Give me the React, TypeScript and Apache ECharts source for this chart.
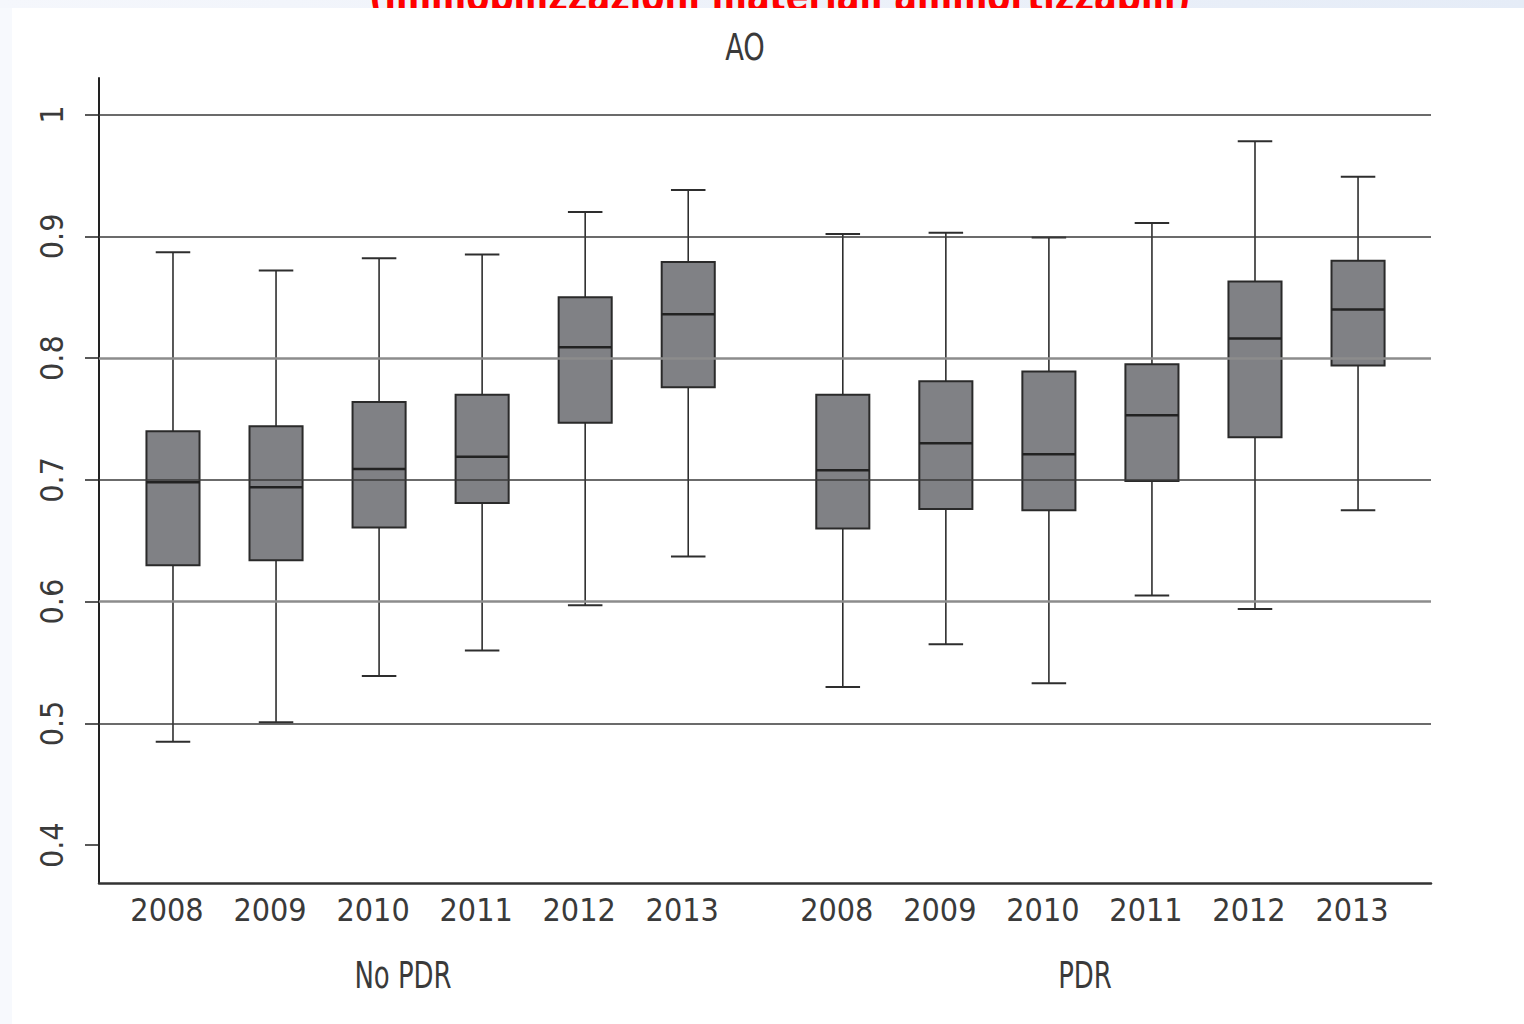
import React, { useEffect, useRef } from "react";
import * as echarts from "echarts";

// ---- data ----
const years = ["2008", "2009", "2010", "2011", "2012", "2013", "2008", "2009", "2010", "2011", "2012", "2013"];
const positions = [1, 2, 3, 4, 5, 6, 7.5, 8.5, 9.5, 10.5, 11.5, 12.5];
const groupNames = ["No PDR", "PDR"];
const whiskerLow = [0.485, 0.501, 0.539, 0.56, 0.597, 0.637, 0.53, 0.565, 0.533, 0.605, 0.594, 0.675];
const q1 = [0.63, 0.634, 0.661, 0.681, 0.747, 0.776, 0.66, 0.676, 0.675, 0.699, 0.735, 0.794];
const median = [0.698, 0.694, 0.709, 0.719, 0.809, 0.836, 0.708, 0.73, 0.721, 0.753, 0.816, 0.84];
const q3 = [0.74, 0.744, 0.764, 0.77, 0.85, 0.879, 0.77, 0.781, 0.789, 0.795, 0.863, 0.88];
const whiskerHigh = [0.887, 0.872, 0.882, 0.885, 0.92, 0.938, 0.902, 0.903, 0.899, 0.911, 0.978, 0.949];
const yTicks = [0.4, 0.5, 0.6, 0.7, 0.8, 0.9, 1];
const gridValues = [0.5, 0.6, 0.7, 0.8, 0.9, 1];
const titleText = "AO";
const headerText = "(immobilizzazioni materiali ammortizzabili)";

const FONT = "'Liberation Sans Narrow', 'Arial Narrow', 'DejaVu Sans Condensed', sans-serif";
const BOX_W = 0.515;
const CAP_W = 0.335;
const DARK_GRID = { color: "#3a3a3a", width: 1.6, type: "solid" };
const LIGHT_GRID = { color: "#8c8c8c", width: 2.5, type: "solid" };
const gridStyles = [DARK_GRID, LIGHT_GRID, DARK_GRID, LIGHT_GRID, DARK_GRID, DARK_GRID];

export default function App() {
  const ref = useRef<HTMLDivElement>(null);
  useEffect(() => {
    if (!ref.current) return;
    const chart = echarts.init(ref.current, null, { renderer: "svg" });
    const labelMap = new Map<number, string>();
    positions.forEach((p, i) => labelMap.set(p, years[i]));
    const data = positions.map((p, i) => [p, whiskerLow[i], q1[i], median[i], q3[i], whiskerHigh[i]]);
    const lineCol = "#2e2e2e";
    const txt = "#3a3a3a";

    const option: any = {
      animation: false,
      backgroundColor: "#ffffff",
      grid: { left: 99, right: 93, top: 78, bottom: 141, containLabel: false },
      xAxis: {
        type: "value",
        min: 0.282,
        max: 13.208,
        splitLine: { show: false },
        axisTick: { show: false },
        axisLine: { show: true, lineStyle: { color: "#333", width: 2.5 } },
        axisLabel: {
          customValues: positions,
          formatter: (v: number) => labelMap.get(v) ?? "",
          fontFamily: FONT,
          fontSize: 32,
          color: txt,
          margin: 11,
          padding: [0, 12, 0, 0],
        },
      },
      yAxis: {
        type: "value",
        min: 0.369,
        max: 1.03,
        splitLine: { show: false },
        axisLine: { show: true, lineStyle: { color: "#222", width: 2 } },
        axisTick: { show: true, customValues: yTicks, length: 14, lineStyle: { color: "#222", width: 1.5 } },
        axisLabel: {
          customValues: yTicks,
          formatter: (v: number) => String(Math.round(v * 10) / 10),
          rotate: 90,
          fontFamily: FONT,
          fontSize: 32,
          color: txt,
          margin: 31,
        },
      },
      graphic: [
        {
          type: "rect",
          z: -10,
          shape: { x: 0, y: 0, width: 1524, height: 1024 },
          style: {
            fill: new echarts.graphic.LinearGradient(0, 0, 1, 0, [
              { offset: 0, color: "#f5f7fc" },
              { offset: 1, color: "#e5ecf7" },
            ]),
          },
        },
        {
          type: "rect",
          z: -10,
          shape: { x: 0, y: 8, width: 12, height: 1016 },
          style: { fill: "#f7f9fd" },
        },
        {
          type: "text",
          z: -9,
          x: 780,
          y: 20,
          scaleX: 0.765,
          style: {
            text: headerText,
            fill: "#ff0000",
            font: `bold 49px ${FONT}`,
            textAlign: "center",
            textVerticalAlign: "bottom",
          },
        },
        {
          type: "rect",
          z: -8,
          shape: { x: 12, y: 8, width: 1512, height: 1016 },
          style: { fill: "#ffffff" },
        },
        {
          type: "text",
          x: 745,
          y: 47,
          scaleX: 0.82,
          style: {
            text: titleText,
            fill: txt,
            font: `37px ${FONT}`,
            textAlign: "center",
            textVerticalAlign: "middle",
          },
        },
        {
          type: "text",
          x: 403,
          y: 975,
          scaleX: 0.78,
          style: {
            text: groupNames[0],
            fill: txt,
            font: `37px ${FONT}`,
            textAlign: "center",
            textVerticalAlign: "middle",
          },
        },
        {
          type: "text",
          x: 1085,
          y: 975,
          scaleX: 0.78,
          style: {
            text: groupNames[1],
            fill: txt,
            font: `37px ${FONT}`,
            textAlign: "center",
            textVerticalAlign: "middle",
          },
        },
      ],
      series: [
        {
          type: "line",
          data: [],
          z: 1,
          silent: true,
          markLine: {
            silent: true,
            symbol: ["none", "none"],
            label: { show: false },
            animation: false,
            data: gridValues.map((v, i) => ({ yAxis: v, lineStyle: gridStyles[i] })),
          },
        },
        {
          type: "custom",
          z: 3,
          data,
          encode: { x: 0, y: [1, 2, 3, 4, 5] },
          renderItem: (params: any, api: any) => {
            const x = api.value(0);
            const lo = api.coord([x, api.value(1)]);
            const b1 = api.coord([x, api.value(2)]);
            const md = api.coord([x, api.value(3)]);
            const b3 = api.coord([x, api.value(4)]);
            const hi = api.coord([x, api.value(5)]);
            const bw = api.size([BOX_W, 0])[0];
            const cw = api.size([CAP_W, 0])[0];
            const cx = lo[0];
            const ls = { stroke: lineCol, lineWidth: 1.6 };
            return {
              type: "group",
              children: [
                { type: "line", shape: { x1: cx, y1: hi[1], x2: cx, y2: b3[1] }, style: ls },
                { type: "line", shape: { x1: cx, y1: b1[1], x2: cx, y2: lo[1] }, style: ls },
                { type: "line", shape: { x1: cx - cw / 2, y1: hi[1], x2: cx + cw / 2, y2: hi[1] }, style: { stroke: lineCol, lineWidth: 2 } },
                { type: "line", shape: { x1: cx - cw / 2, y1: lo[1], x2: cx + cw / 2, y2: lo[1] }, style: { stroke: lineCol, lineWidth: 2 } },
                {
                  type: "rect",
                  shape: { x: cx - bw / 2, y: b3[1], width: bw, height: b1[1] - b3[1] },
                  style: { fill: "#808185", stroke: "#2a2a2a", lineWidth: 2 },
                },
                { type: "line", shape: { x1: cx - bw / 2, y1: md[1], x2: cx + bw / 2, y2: md[1] }, style: { stroke: "#222", lineWidth: 2.5 } },
              ],
            };
          },
        },
      ],
    };
    chart.setOption(option);
    return () => chart.dispose();
  }, []);
  return <div ref={ref} style={{ position: "absolute", left: 0, top: 0, width: 1524, height: 1024 }} />;
}
